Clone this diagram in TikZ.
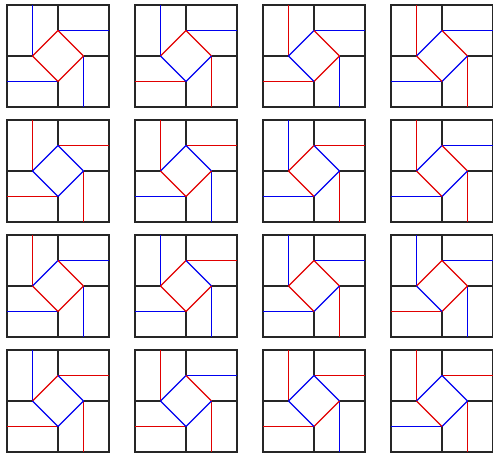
\documentclass[tikz,border=0pt]{standalone}
\definecolor{pr}{RGB}{225,0,0}
\definecolor{pb}{RGB}{0,0,240}
\tikzset{
  frame/.style={line width=1.4bp, draw=black!85},
  col/.style={line width=1.25bp}
}
\newcommand\mypanel[9]{%
\begin{scope}[shift={#1}, x=25.5bp, y=25.5bp]
  \draw[frame] (0,0) rectangle (4,4);
  \draw[frame] (2,4) -- (2,3) (0,2) -- (1,2) (3,2) -- (4,2) (2,1) -- (2,0);
  \begin{scope}[xshift=0.3bp, yshift=-0.3bp]
  \draw[col,color=p#2] (1,4) -- (1,2);
  \draw[col,color=p#3] (2,3) -- (4,3);
  \draw[col,color=p#4] (3,2) -- (3,0);
  \draw[col,color=p#5] (0,1) -- (2,1);
  \end{scope}
  \draw[col,color=p#6] (1,2) -- (2,3);
  \draw[col,color=p#7] (2,3) -- (3,2);
  \draw[col,color=p#8] (3,2) -- (2,1);
  \draw[col,color=p#9] (2,1) -- (1,2);
\end{scope}}
\begin{document}
\begin{tikzpicture}[x=1bp,y=1bp]
\useasboundingbox (0,0) rectangle (493,456);
% row 1
\mypanel{(7,349)}{b}{b}{b}{b}{r}{r}{r}{r}
\mypanel{(135,349)}{b}{b}{r}{r}{r}{r}{b}{b}
\mypanel{(263,349)}{r}{b}{b}{r}{b}{r}{r}{b}
\mypanel{(391,349)}{r}{b}{r}{b}{b}{r}{b}{r}
% row 2
\mypanel{(7,234)}{r}{r}{r}{r}{b}{b}{b}{b}
\mypanel{(135,234)}{r}{r}{b}{b}{b}{b}{r}{r}
\mypanel{(263,234)}{b}{r}{r}{b}{r}{b}{b}{r}
\mypanel{(391,234)}{r}{b}{r}{b}{b}{r}{b}{r}
% row 3
\mypanel{(7,119)}{r}{b}{b}{b}{b}{r}{r}{r}
\mypanel{(135,119)}{b}{r}{b}{b}{r}{b}{r}{r}
\mypanel{(263,119)}{b}{b}{r}{b}{r}{r}{b}{r}
\mypanel{(391,119)}{b}{b}{b}{r}{r}{r}{r}{b}
% row 4
\mypanel{(7,4)}{b}{r}{r}{r}{r}{b}{b}{b}
\mypanel{(135,4)}{r}{b}{r}{r}{b}{r}{b}{b}
\mypanel{(263,4)}{r}{r}{b}{r}{b}{b}{r}{b}
\mypanel{(391,4)}{r}{r}{r}{b}{b}{b}{b}{r}
\end{tikzpicture}
\end{document}
